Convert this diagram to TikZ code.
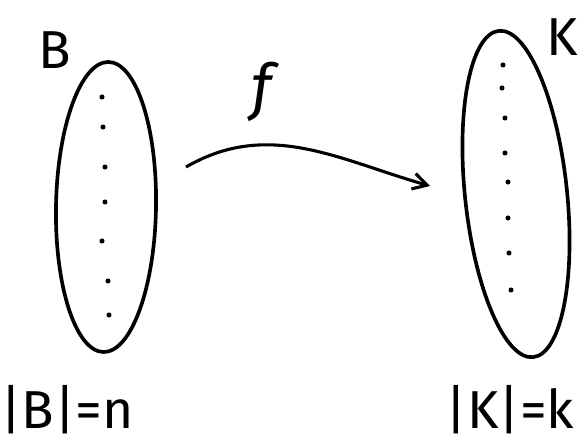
\documentclass[tikz,border=0pt]{standalone}
\usepackage{fontspec}
\setmainfont{Fira Sans}
\usetikzlibrary{shapes.geometric,arrows.meta,positioning}

\begin{document}
\begin{tikzpicture}[
    x=0.025cm, y=-0.025cm,
    setshape/.style={ellipse, draw=black, line width=2.6pt, inner sep=0pt},
    elem/.style={circle, fill=black, inner sep=0pt, minimum size=3.6pt},
    arr/.style={-{Straight Barb[length=3.5mm, width=4mm]}, line width=2.2pt},
    lbl/.style={font=\fontsize{38}{44}\selectfont, inner sep=0pt}
]
    \useasboundingbox (0,0) rectangle (580,448);

    % Domain
    \node[setshape, minimum width=2.5cm, minimum height=7.25cm, rotate=-1] (setB) at (106,207) {};
    \node[lbl] (nameB) at (55,50) {B};
    \foreach \px/\py [count=\i] in {102/97,103/127,105/167,105/202,102/241,108/281,109/315}
        \node[elem] (b\i) at (\px,\py) {};
    \node[lbl, anchor=west] (sizeB) at (0,410) {|B|=n};

    % Codomain
    \node[setshape, minimum width=2.55cm, minimum height=8.2cm, rotate=6] (setK) at (516,194) {};
    \node[lbl] (nameK) at (562,37) {K};
    \foreach \px/\py [count=\i] in {503/65,502/88,505/118,505/153,508/182,508/218,509/253,511/290}
        \node[elem] (k\i) at (\px,\py) {};
    \node[lbl] (sizeK) at (510,410) {|K|=k};

    % Map
    \coordinate (fstart) at (186,167);
    \coordinate (fend) at (430,186);
    \draw[arr] (fstart) to[out=30, in=164] (fend);
    \node[lbl, font=\fontsize{44}{50}\selectfont\itshape] (fname) at (262,92) {f};
\end{tikzpicture}
\end{document}
